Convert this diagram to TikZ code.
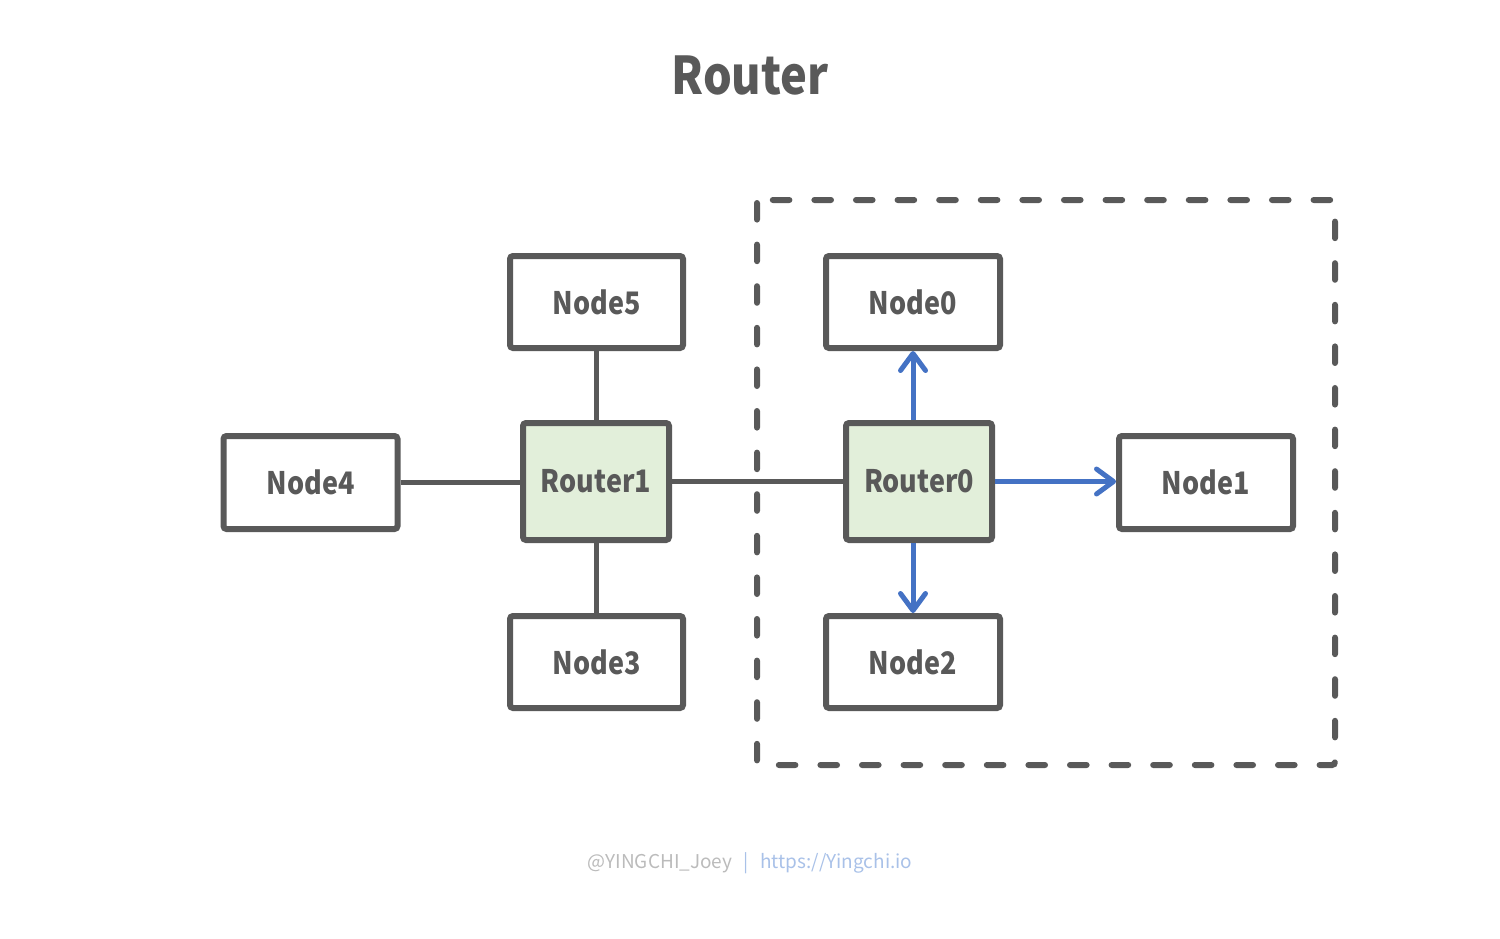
\documentclass[tikz,border=0pt]{standalone}
\usepackage{fontspec}
\setmainfont{Noto Sans CJK SC}[FakeStretch=0.87]
\newfontfamily\footfont{Noto Sans CJK SC}
\usetikzlibrary{arrows.meta}
\definecolor{dgray}{HTML}{595959}
\definecolor{eblue}{HTML}{4472C4}
\definecolor{lgreen}{HTML}{E2EFDA}
\definecolor{fgray}{HTML}{BBBBBB}
\definecolor{fblue}{HTML}{A9C1E8}
\begin{document}
\begin{tikzpicture}[x=0.5pt,y=-0.5pt,
  nodebox/.style={draw=dgray,line width=3pt,fill=white,rounded corners=1.5pt,inner sep=0pt,
    text=dgray,font=\fontsize{15.5}{18}\selectfont\bfseries},
  routerbox/.style={nodebox,fill=lgreen},
  link/.style={draw=dgray,line width=2.8pt},
  bluearrow/.style={draw=eblue,line width=2.5pt,-{Straight Barb[length=8.5pt,width=12.5pt,round,line width=2.5pt]}}]
\useasboundingbox (0,0) rectangle (1500,938);
\node[text=dgray,font=\fontsize{26}{30}\selectfont\bfseries] (title) at (750,75) {Router};
\draw[dgray,line width=3pt,dash pattern=on 8.3pt off 12.5pt,line cap=round,rounded corners=1.5pt]
  (757,200) rectangle (1335,765);
\node[nodebox,minimum width=86.5pt,minimum height=46pt] (n5) at (596.5,302) {Node5};
\node[nodebox,minimum width=87pt,minimum height=46pt] (n0) at (913,302) {Node0};
\node[nodebox,minimum width=87pt,minimum height=46.5pt] (n4) at (310.5,482.5) {Node4};
\node[routerbox,minimum width=73pt,minimum height=58.5pt] (r1) at (596,481.5) {Router1};
\node[routerbox,minimum width=73pt,minimum height=58.5pt] (r0) at (919,481.5) {Router0};
\node[nodebox,minimum width=87pt,minimum height=46.5pt] (n1) at (1206,482.5) {Node1};
\node[nodebox,minimum width=86.5pt,minimum height=46pt] (n3) at (596.5,662) {Node3};
\node[nodebox,minimum width=87pt,minimum height=46pt] (n2) at (913,662) {Node2};
\draw[link] (n5.south) -- (n5.south |- r1.north);
\draw[link] (r1.south -| n3.north) -- (n3.north);
\draw[link] (n4.east) -- (n4.east -| r1.west);
\draw[link] (r1.east) -- (r1.east -| r0.west);
\draw[bluearrow] (r0.north -| n0.south) -- (n0.south);
\draw[bluearrow] (r0.south -| n2.north) -- (n2.north);
\draw[bluearrow] (r0.east) -- (r0.east -| n1.west);
\node[font=\footfont\fontsize{9.5}{11}\selectfont] (foot) at (750,863) {\textcolor{fgray}{@YINGCHI\_Joey}\hspace{0.6em}\textcolor{fblue}{|}\hspace{0.6em}\textcolor{fblue}{https://Yingchi.io}};
\end{tikzpicture}
\end{document}
